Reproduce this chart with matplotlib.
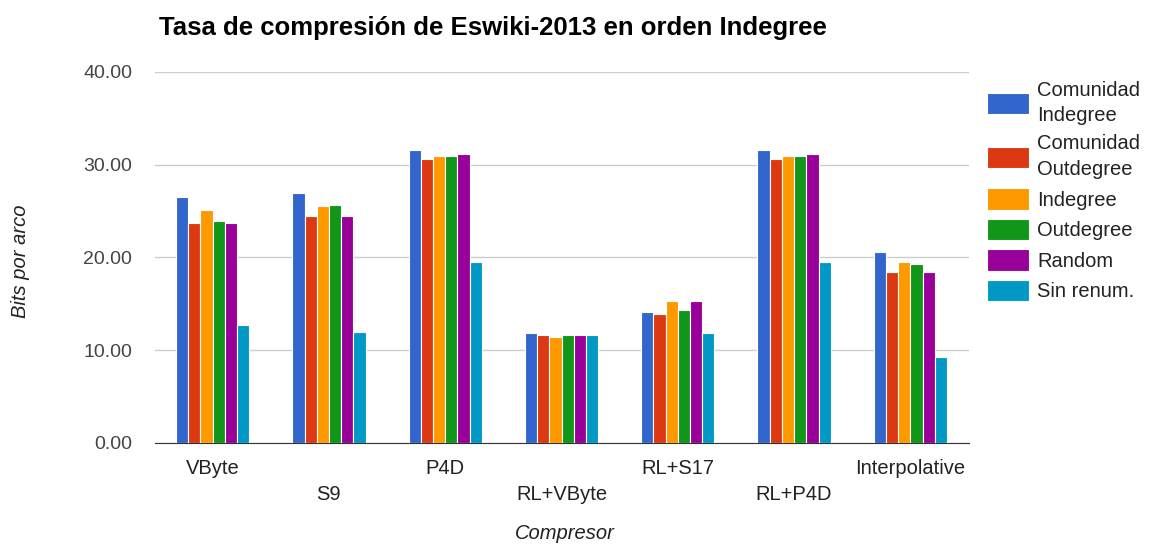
import numpy as np
import matplotlib
matplotlib.use("Agg")
import matplotlib.pyplot as plt

plt.rcParams['font.family'] = ['Liberation Sans', 'DejaVu Sans']

compresores = ["VByte", "S9", "P4D", "RL+VByte", "RL+S17", "RL+P4D", "Interpolative"]
series = ["Comunidad\nIndegree", "Comunidad\nOutdegree", "Indegree", "Outdegree", "Random", "Sin renum."]
colores = ["#3366cc", "#dc3912", "#ff9900", "#109618", "#990099", "#0099c6"]

com_indegree = [26.5, 26.9, 31.6, 11.8, 14.1, 31.6, 20.6]
com_outdegree = [23.7, 24.5, 30.6, 11.6, 13.9, 30.6, 18.4]
indegree = [25.1, 25.5, 30.9, 11.4, 15.3, 30.9, 19.5]
outdegree = [23.9, 25.6, 30.9, 11.6, 14.3, 30.9, 19.3]
random_ = [23.7, 24.5, 31.1, 11.6, 15.3, 31.1, 18.4]
sin_renum = [12.7, 12.0, 19.5, 11.6, 11.8, 19.5, 9.3]
valores = [com_indegree, com_outdegree, indegree, outdegree, random_, sin_renum]

fig = plt.figure(figsize=(11.53, 5.44), dpi=100)
ax = fig.add_axes([0.134, 0.186, 0.706, 0.682])

x = np.arange(len(compresores))
ancho = 0.105
for i, (vals, nombre, color) in enumerate(zip(valores, series, colores)):
    ax.bar(x + (i - 2.5) * ancho, vals, ancho, color=color, edgecolor="white",
           linewidth=0.8, label=nombre, zorder=3)

ax.set_xlim(-0.5, len(compresores) - 0.5)
ax.set_ylim(0, 40)
ax.set_yticks([0, 10, 20, 30, 40])
ax.set_yticklabels([f"{v:.2f}" for v in [0, 10, 20, 30, 40]], fontsize=14, color="#444444")
ax.grid(axis="y", color="#cccccc", linewidth=1, zorder=0)
for s in ["top", "right", "left"]:
    ax.spines[s].set_visible(False)
ax.spines["bottom"].set_color("#333333")
ax.tick_params(axis="both", length=0)
ax.tick_params(axis="y", pad=16)

ax.set_xticks(x)
ax.set_xticklabels([])
for i, nombre in enumerate(compresores):
    dy = -0.068 if i % 2 == 0 else -0.14
    ax.text(i, dy, nombre, transform=ax.get_xaxis_transform(), ha="center",
            va="center", fontsize=14.5, color="#222222")

fig.text(0.49, 0.02, "Compresor", fontsize=14.5, style="italic", color="#222222",
         ha="center", va="center")
fig.text(0.018, 0.52, "Bits por arco", rotation=90, fontsize=14.5, style="italic",
         color="#222222", ha="center", va="center")

fig.text(0.138, 0.948, "Tasa de compresión de Eswiki-2013 en orden Indegree",
         fontsize=18.5, fontweight="bold", color="black", ha="left", va="center")

leg = ax.legend(loc="upper left", bbox_to_anchor=(1.0, 1.025), frameon=False,
                fontsize=14.5, handlelength=2.1, handleheight=1.25, labelspacing=0.45,
                handletextpad=0.4, labelcolor="#222222")
for t in leg.get_texts():
    t.set_linespacing(1.45)

fig.savefig("out.png", dpi=100)
